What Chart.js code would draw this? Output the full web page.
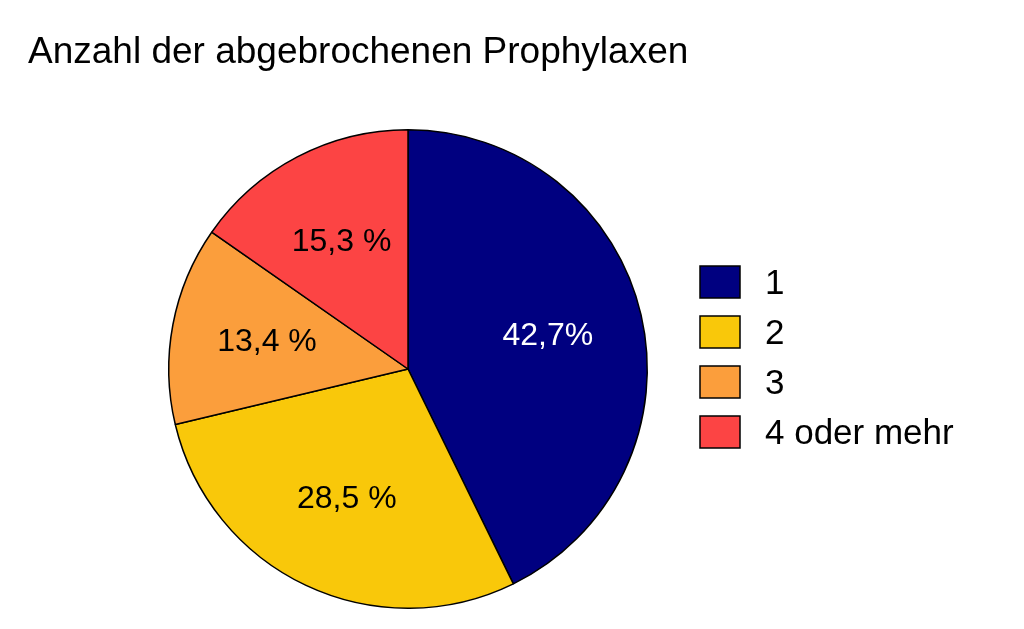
<!DOCTYPE html>
<html>
<head>
<meta charset="utf-8">
<script src="https://cdn.jsdelivr.net/npm/chart.js@4"></script>
<style>
  html, body { margin: 0; padding: 0; background: #fff; }
  #wrap { width: 1024px; height: 629px; }
</style>
</head>
<body>
<div id="wrap"><canvas id="chart" width="1024" height="629"></canvas></div>
<script>
const categories = ['1', '2', '3', '4 oder mehr'];
const shares = [42.7, 28.5, 13.4, 15.3];
const sliceLabels = ['42,7%', '28,5 %', '13,4 %', '15,3 %'];
const colors = ['#000080', '#F9C80A', '#FB9E3C', '#FC4444'];
const labelColors = ['#ffffff', '#000000', '#000000', '#000000'];
const titleText = 'Anzahl der abgebrochenen Prophylaxen';

const font = '"Liberation Sans", Arial, sans-serif';

const decorations = {
  id: 'decorations',
  afterDraw(chart) {
    const ctx = chart.ctx;
    ctx.save();
    // title
    ctx.fillStyle = '#000';
    ctx.font = '37px ' + font;
    ctx.textBaseline = 'alphabetic';
    ctx.textAlign = 'left';
    ctx.fillText(titleText, 28, 63);

    // slice labels
    const meta = chart.getDatasetMeta(0);
    ctx.font = '32px ' + font;
    ctx.textAlign = 'center';
    ctx.textBaseline = 'middle';
    meta.data.forEach((arc, i) => {
      const mid = (arc.startAngle + arc.endAngle) / 2;
      const r = arc.outerRadius * 0.6;
      ctx.fillStyle = labelColors[i];
      ctx.fillText(sliceLabels[i], arc.x + Math.cos(mid) * r, arc.y + Math.sin(mid) * r);
    });

    // legend
    ctx.font = '35px ' + font;
    ctx.textAlign = 'left';
    categories.forEach((c, i) => {
      const y = 282 + i * 50;
      ctx.fillStyle = colors[i];
      ctx.fillRect(700, y - 16, 40, 32);
      ctx.strokeStyle = '#000';
      ctx.lineWidth = 1.5;
      ctx.strokeRect(700, y - 16, 40, 32);
      ctx.fillStyle = '#000';
      ctx.fillText(c, 765, y + 2);
    });
    ctx.restore();
  }
};

new Chart(document.getElementById('chart'), {
  type: 'pie',
  data: {
    labels: categories,
    datasets: [{
      data: shares,
      backgroundColor: colors,
      borderColor: '#000',
      borderWidth: 1.5
    }]
  },
  options: {
    responsive: false,
    animation: false,
    layout: { padding: { left: 168, top: 129, right: 376, bottom: 20 } },
    plugins: { legend: { display: false }, tooltip: { enabled: false } }
  },
  plugins: [decorations]
});
</script>
</body>
</html>
